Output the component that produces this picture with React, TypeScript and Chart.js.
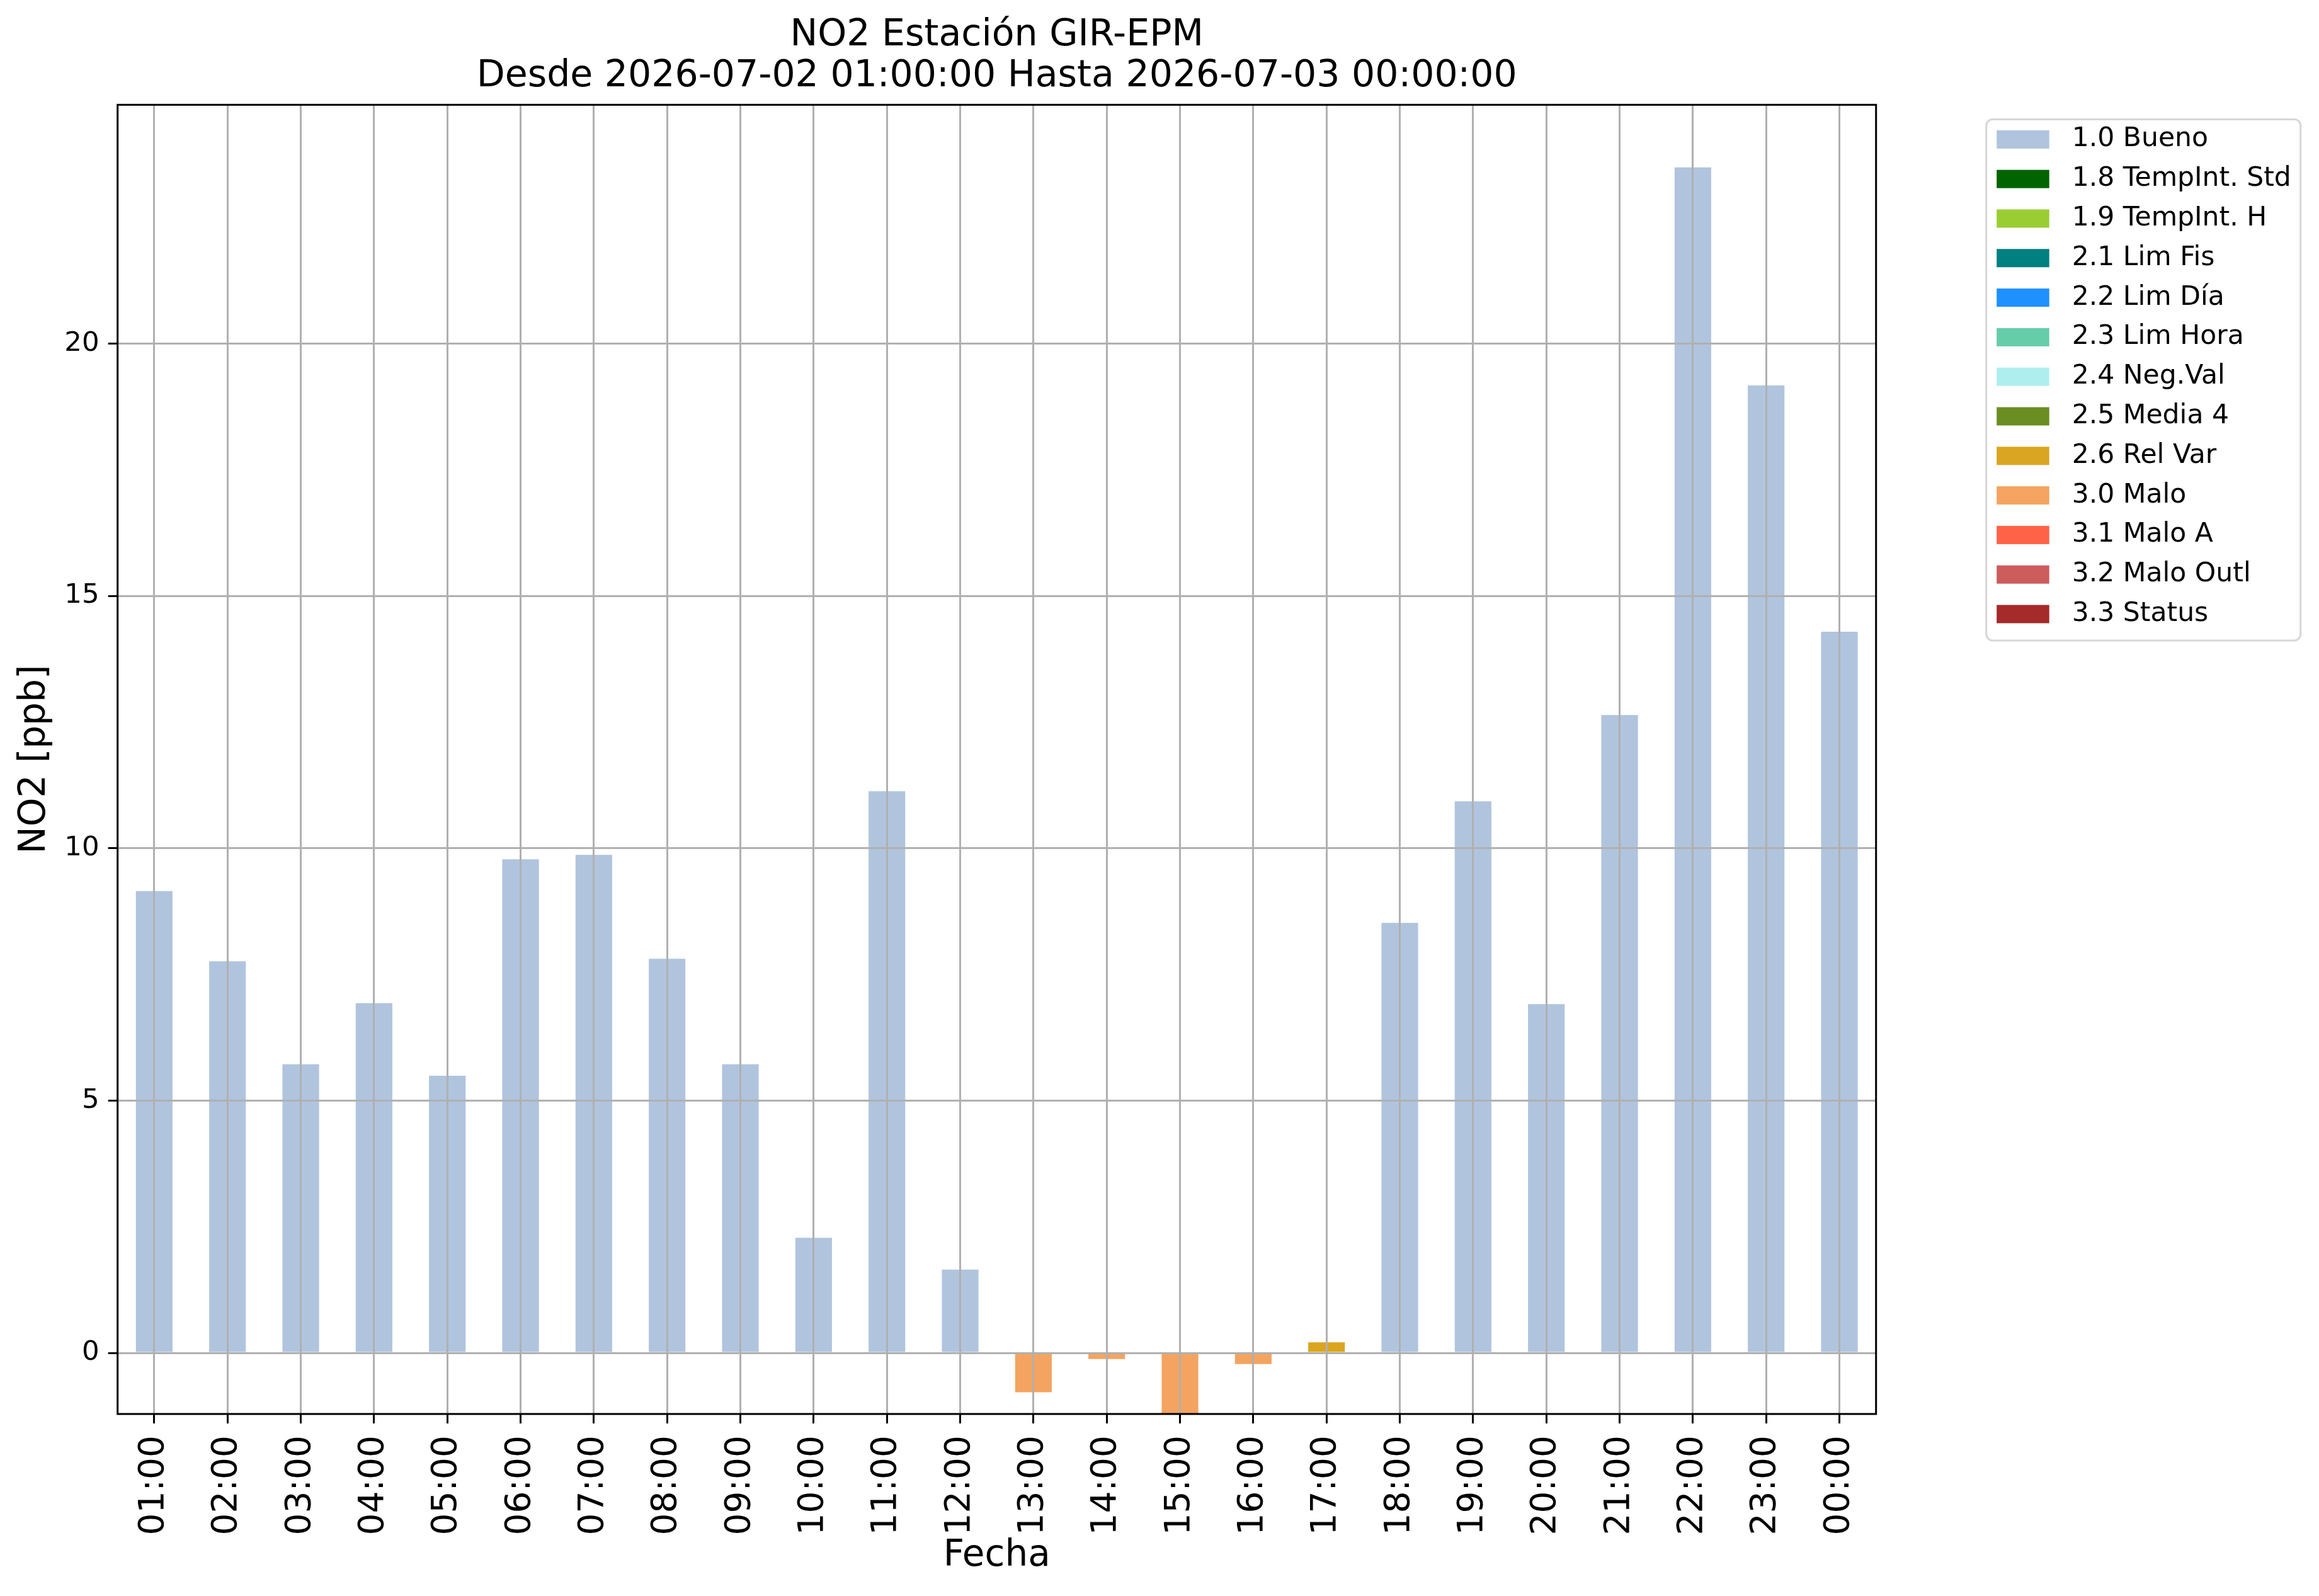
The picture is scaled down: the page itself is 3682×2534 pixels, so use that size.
import { useEffect, useRef } from 'react'
import { Chart, registerables } from 'chart.js'
Chart.register(...registerables)

// hourly NO2 values and their quality flag
const hours = ['01:00', '02:00', '03:00', '04:00', '05:00', '06:00', '07:00', '08:00', '09:00', '10:00', '11:00', '12:00',
    '13:00', '14:00', '15:00', '16:00', '17:00', '18:00', '19:00', '20:00', '21:00', '22:00', '23:00', '00:00']
const no2 = [9.15, 7.76, 5.72, 6.93, 5.49, 9.78, 9.87, 7.81, 5.72, 2.28, 11.13, 1.65,
    -0.78, -0.12, -1.21, -0.22, 0.21, 8.52, 10.93, 6.91, 12.64, 23.49, 19.17, 14.29]
const hourFlags = ['1.0', '1.0', '1.0', '1.0', '1.0', '1.0', '1.0', '1.0', '1.0', '1.0', '1.0', '1.0',
    '3.0', '3.0', '3.0', '3.0', '2.6', '1.0', '1.0', '1.0', '1.0', '1.0', '1.0', '1.0']

const flagCodes = ['1.0', '1.8', '1.9', '2.1', '2.2', '2.3', '2.4', '2.5', '2.6', '3.0', '3.1', '3.2', '3.3']
const flagNames = ['Bueno', 'TempInt. Std', 'TempInt. H', 'Lim Fis', 'Lim Día', 'Lim Hora', 'Neg.Val', 'Media 4',
    'Rel Var', 'Malo', 'Malo A', 'Malo Outl', 'Status']
const flagColors = ['#b0c4de', '#006400', '#9acd32', '#008080', '#1e90ff', '#66cdaa', '#afeeee', '#6b8e23',
    '#daa520', '#f4a460', '#ff6347', '#cd5c5c', '#a52a2a']

const yTicks = [0, 5, 10, 15, 20]
const yMin = -1.21
const yMax = 24.73

const titleLines = ['NO2 Estación GIR-EPM', 'Desde 2026-07-02 01:00:00 Hasta 2026-07-03 00:00:00']

const FONT = '"DejaVu Sans", sans-serif'

// matplotlib-like box around the axes
const frame = {
    id: 'frame',
    afterDraw(chart: any) {
        const { ctx, chartArea: a } = chart
        ctx.save()
        ctx.strokeStyle = '#000'
        ctx.lineWidth = 3
        ctx.strokeRect(a.left, a.top, a.right - a.left, a.bottom - a.top)
        ctx.restore()
    },
}

// legend outside the axes, top right
const sideLegend = {
    id: 'sideLegend',
    afterDraw(chart: any) {
        const { ctx, chartArea: a } = chart
        const x0 = a.right + 175
        const y0 = a.top + 23
        const rowH = 62.8
        const n = chart.data.datasets.length
        ctx.save()
        ctx.beginPath()
        ctx.roundRect(x0, y0, 499, 32 + (n - 1) * rowH + 32 + 10, 10)
        ctx.fillStyle = '#fff'
        ctx.fill()
        ctx.lineWidth = 3
        ctx.strokeStyle = '#d6d6d6'
        ctx.stroke()
        ctx.font = `42.5px ${FONT}`
        ctx.textBaseline = 'middle'
        ctx.textAlign = 'left'
        chart.data.datasets.forEach((ds: any, i: number) => {
            const cy = y0 + 32 + i * rowH
            ctx.fillStyle = ds.backgroundColor
            ctx.fillRect(x0 + 16.5, cy - 14.5, 83.5, 29)
            ctx.fillStyle = '#000'
            ctx.fillText(ds.label, x0 + 136, cy)
        })
        ctx.restore()
    },
}

export default function App() {
    const canvasRef = useRef<HTMLCanvasElement>(null)
    const chartRef = useRef<Chart | null>(null)

    useEffect(() => {
        if (!canvasRef.current) return
        const ctx = canvasRef.current.getContext('2d')!
        chartRef.current?.destroy()

        const datasets = flagCodes.map((code, k) => ({
            label: `${code} ${flagNames[k]}`,
            data: no2.map((v, i) => (hourFlags[i] === code ? v : null)),
            backgroundColor: flagColors[k],
            borderWidth: 0,
            barPercentage: 0.5,
            categoryPercentage: 1.0,
        }))

        const gridOpts = { color: '#b0b0b0', lineWidth: 3, tickColor: '#000', tickWidth: 3, tickLength: 15, z: 1 }

        chartRef.current = new Chart(ctx, {
            type: 'bar',
            data: { labels: hours, datasets },
            options: {
                responsive: false,
                devicePixelRatio: 1,
                animation: false,
                layout: { padding: { left: 0, right: 703.3, top: 0, bottom: 0 } },
                plugins: {
                    legend: { display: false },
                    tooltip: { enabled: false },
                    title: {
                        display: true,
                        fullSize: false,
                        text: titleLines,
                        color: '#000',
                        font: { family: FONT, size: 58.5, weight: 'normal', lineHeight: 1.123 },
                        padding: { top: 23.5, bottom: 11.5 },
                    },
                },
                scales: {
                    x: {
                        stacked: true,
                        offset: true,
                        border: { display: false },
                        grid: { ...gridOpts, offset: false },
                        ticks: {
                            color: '#000', font: { family: FONT, size: 55 },
                            minRotation: 90, maxRotation: 90, autoSkip: false, padding: 19,
                        },
                        title: {
                            display: true, text: 'Fecha', color: '#000',
                            font: { family: FONT, size: 58 }, padding: { top: 0, bottom: 28 },
                        },
                        afterFit: (s: any) => { s.height = 289 },
                    },
                    y: {
                        stacked: true,
                        min: yMin,
                        max: yMax,
                        border: { display: false },
                        grid: gridOpts,
                        afterBuildTicks: (s: any) => { s.ticks = yTicks.map(value => ({ value })) },
                        ticks: { color: '#000', font: { family: FONT, size: 43.5 }, padding: 14 },
                        title: {
                            display: true, text: 'NO2 [ppb]', color: '#000',
                            font: { family: FONT, size: 58 }, padding: { top: 21, bottom: 0 },
                        },
                        afterFit: (s: any) => { s.width = 186.7 },
                    },
                },
            },
            plugins: [frame, sideLegend],
        } as any)
        return () => chartRef.current?.destroy()
    }, [])

    return (
        <div style={{ position: 'absolute', left: 0, top: 0, width: 3682, height: 2534, background: '#fff' }}>
            <canvas ref={canvasRef} width={3682} height={2534} />
        </div>
    )
}
